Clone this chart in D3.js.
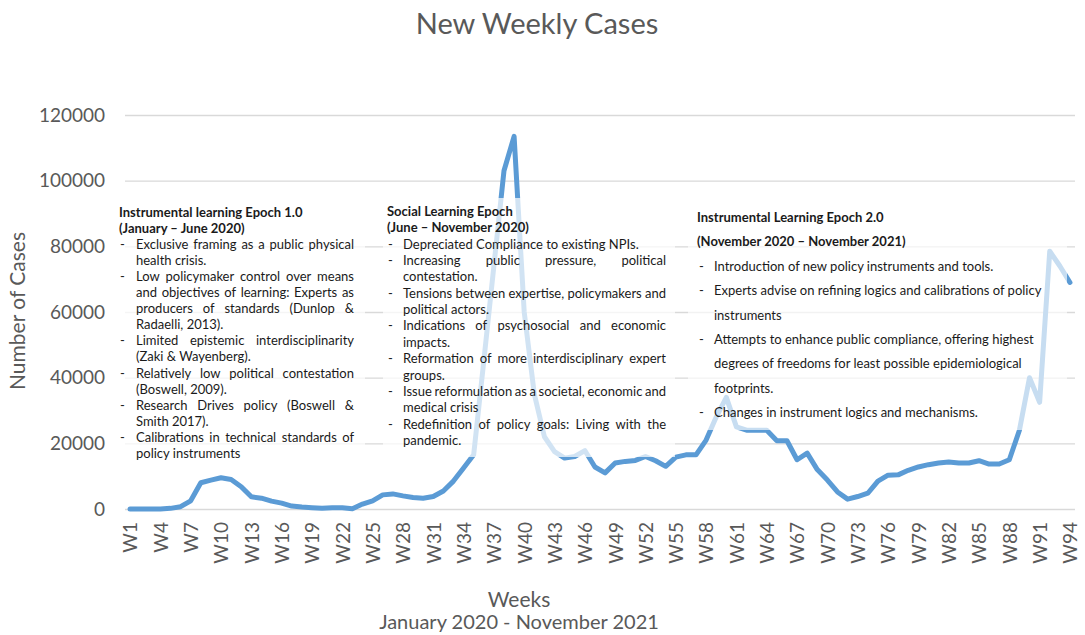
<!DOCTYPE html>
<html>
<head>
<meta charset="utf-8">
<script src="https://cdn.jsdelivr.net/npm/d3@7"></script>
<style>
	body { margin: 0; background: #fff; }
	svg { font-family: Lato, "Open Sans", sans-serif; }
	.box-text { font-size: 13px; fill: #1a1a1a; }
</style>
</head>
<body>
<svg></svg>
<script>
const size = { w: 1085, h: 635 };
const plot = { l: 125, r: 1075, t: 115, b: 509 };

const weeks = Array.from({ length: 94 }, (_, i) => "W" + (i + 1));
const cases = [
	0, 0, 0, 0, 200, 700, 2500, 8000, 8800, 9500,
	9000, 6800, 3700, 3300, 2400, 1800, 900, 600, 400, 200,
	400, 400, 100, 1500, 2500, 4300, 4600, 4000, 3500, 3300,
	3800, 5500, 8500, 12500, 16500, 45000, 74000, 103000, 113500, 60000,
	35000, 22000, 17500, 15500, 16000, 17800, 12800, 11000, 14000, 14500,
	14800, 16000, 14700, 13000, 15800, 16500, 16500, 21000, 28000, 34000,
	25000, 24000, 24000, 24000, 20800, 20800, 15000, 17000, 12000, 8800,
	5200, 3000, 3800, 4800, 8500, 10300, 10400, 11800, 12800, 13500,
	14000, 14300, 14000, 14000, 14700, 13700, 13700, 15000, 24000, 40000,
	32500, 78500, 74000, 69000
];
const yTicks = [0, 20000, 40000, 60000, 80000, 100000, 120000];
const xTickLabels = weeks.filter((d, i) => i % 3 === 0);

// epoch notes: [kind, text]  kind: b = bold heading, d = dash item, c = continuation, j suffix = justified
const epoch1 = [
	["b", "Instrumental learning Epoch 1.0"],
	["b", "(January \u2013 June 2020)"],
	["dj", "Exclusive framing as a public physical"],
	["c", "health crisis."],
	["dj", "Low policymaker control over means"],
	["cj", "and objectives of learning: Experts as"],
	["cj", "producers of standards (Dunlop &"],
	["c", "Radaelli, 2013)."],
	["dj", "Limited epistemic interdisciplinarity"],
	["c", "(Zaki & Wayenberg)."],
	["dj", "Relatively low political contestation"],
	["c", "(Boswell, 2009)."],
	["dj", "Research Drives policy (Boswell &"],
	["c", "Smith 2017)."],
	["dj", "Calibrations in technical standards of"],
	["c", "policy instruments"]
];
const epoch2 = [
	["b", "Social Learning Epoch"],
	["b", "(June \u2013 November 2020)"],
	["d", "Depreciated Compliance to existing NPIs."],
	["dj", "Increasing public pressure, political"],
	["c", "contestation."],
	["dj", "Tensions between expertise, policymakers and"],
	["c", "political actors."],
	["dj", "Indications of psychosocial and economic"],
	["c", "impacts."],
	["dj", "Reformation of more interdisciplinary expert"],
	["c", "groups."],
	["dj", "Issue reformulation as a societal, economic and"],
	["c", "medical crisis"],
	["dj", "Redefinition of policy goals: Living with the"],
	["c", "pandemic."]
];
const epoch3 = [
	["b", "Instrumental Learning Epoch 2.0"],
	["b", "(November 2020 \u2013 November 2021)"],
	["d", "Introduction of new policy instruments and tools."],
	["d", "Experts advise on refining logics and calibrations of policy"],
	["c", "instruments"],
	["d", "Attempts to enhance public compliance, offering highest"],
	["c", "degrees of freedoms for least possible epidemiological"],
	["c", "footprints."],
	["d", "Changes in instrument logics and mechanisms."]
];

const svg = d3.select("svg").attr("width", size.w).attr("height", size.h);

const xScale = d3.scalePoint().domain(weeks).range([plot.l, plot.r]).padding(0.5);
const yScale = d3.scaleLinear().domain([0, 120000]).range([plot.b, plot.t]);

// gridlines + y labels
const yAxisG = svg.append("g")
	.attr("transform", `translate(${plot.l},0)`)
	.call(d3.axisLeft(yScale).tickValues(yTicks).tickSize(-(plot.r - plot.l)).tickPadding(20).tickFormat(d3.format("d")));
yAxisG.select(".domain").remove();
yAxisG.selectAll(".tick line").attr("stroke", "#d9d9d9").attr("stroke-width", 1.3);
yAxisG.selectAll(".tick text")
	.attr("fill", "#595959")
	.style("font-size", "19px")
	.style("font-family", "Lato, sans-serif");

// x labels
const xAxisG = svg.append("g")
	.attr("transform", `translate(0,${plot.b})`)
	.call(d3.axisBottom(xScale).tickValues(xTickLabels).tickSize(0));
xAxisG.select(".domain").remove();
xAxisG.selectAll(".tick text")
	.attr("transform", "rotate(-90)")
	.attr("text-anchor", "end")
	.attr("x", -13)
	.attr("y", 0)
	.attr("dy", "0.36em")
	.attr("fill", "#595959")
	.style("font-size", "19px")
	.style("font-family", "Lato, sans-serif");

// the series
const line = d3.line()
	.x((d, i) => xScale(weeks[i]))
	.y((d) => yScale(d));
svg.append("path")
	.datum(cases)
	.attr("fill", "none")
	.attr("stroke", "#5b9bd5")
	.attr("stroke-width", 5)
	.attr("stroke-linejoin", "round")
	.attr("stroke-linecap", "round")
	.attr("d", line);

// titles
svg.append("text")
	.attr("x", 537).attr("y", 34)
	.attr("text-anchor", "middle")
	.attr("fill", "#595959")
	.style("font-size", "29px")
	.text("New Weekly Cases");
svg.append("text")
	.attr("transform", "translate(25,311) rotate(-90)")
	.attr("text-anchor", "middle")
	.attr("fill", "#595959")
	.style("font-size", "21px")
	.text("Number of Cases");
svg.append("text")
	.attr("x", 519).attr("y", 607)
	.attr("text-anchor", "middle")
	.attr("fill", "#595959")
	.style("font-size", "21px")
	.text("Weeks");
svg.append("text")
	.attr("x", 519).attr("y", 629)
	.attr("text-anchor", "middle")
	.attr("fill", "#595959")
	.style("font-size", "20px")
	.text("January 2020 - November 2021");

// text boxes laid over the chart
function noteBox(rows, box, opts) {
	const g = svg.append("g");
	g.append("rect")
		.attr("x", box.x).attr("y", box.y)
		.attr("width", box.w).attr("height", box.h)
		.attr("fill", "#fff")
		.attr("fill-opacity", opts.alpha);

	rows.forEach((r, i) => {
		const kind = r[0];
		const y = opts.y0 + i * opts.step;
		if (kind === "b") {
			g.append("text").classed("box-text", true)
				.attr("x", opts.hx).attr("y", y)
				.style("font-weight", "bold")
				.text(r[1]);
			return;
		}
		if (kind[0] === "d") {
			g.append("text").classed("box-text", true)
				.attr("x", opts.dx).attr("y", y)
				.text("-");
		}
		const t = g.append("text").classed("box-text", true)
			.attr("x", opts.tx).attr("y", y);
		if (kind[1] === "j") {
			// spread words to the right edge
			const words = r[1].split(" ");
			const widths = words.map((w) => {
				const tmp = g.append("text").classed("box-text", true).text(w);
				const len = tmp.node().getComputedTextLength();
				tmp.remove();
				return len;
			});
			const gap = (opts.right - opts.tx - d3.sum(widths)) / (words.length - 1);
			let cx = opts.tx;
			words.forEach((w, k) => {
				t.append("tspan").attr("x", cx).text(w);
				cx += widths[k] + gap;
			});
		} else {
			t.text(r[1]);
		}
	});
}

noteBox(epoch1, { x: 114, y: 200, w: 251, h: 266 },
	{ alpha: 0.72, hx: 119, dx: 120, tx: 136, right: 354, y0: 217, step: 16.05 });
noteBox(epoch2, { x: 383, y: 198, w: 292, h: 259 },
	{ alpha: 0.72, hx: 387, dx: 388, tx: 403, right: 666, y0: 216, step: 16.35 });
noteBox(epoch3, { x: 688, y: 200, w: 379, h: 230 },
	{ alpha: 0.66, hx: 697, dx: 699, tx: 714, right: 1060, y0: 222, step: 24.4 });
</script>
</body>
</html>
